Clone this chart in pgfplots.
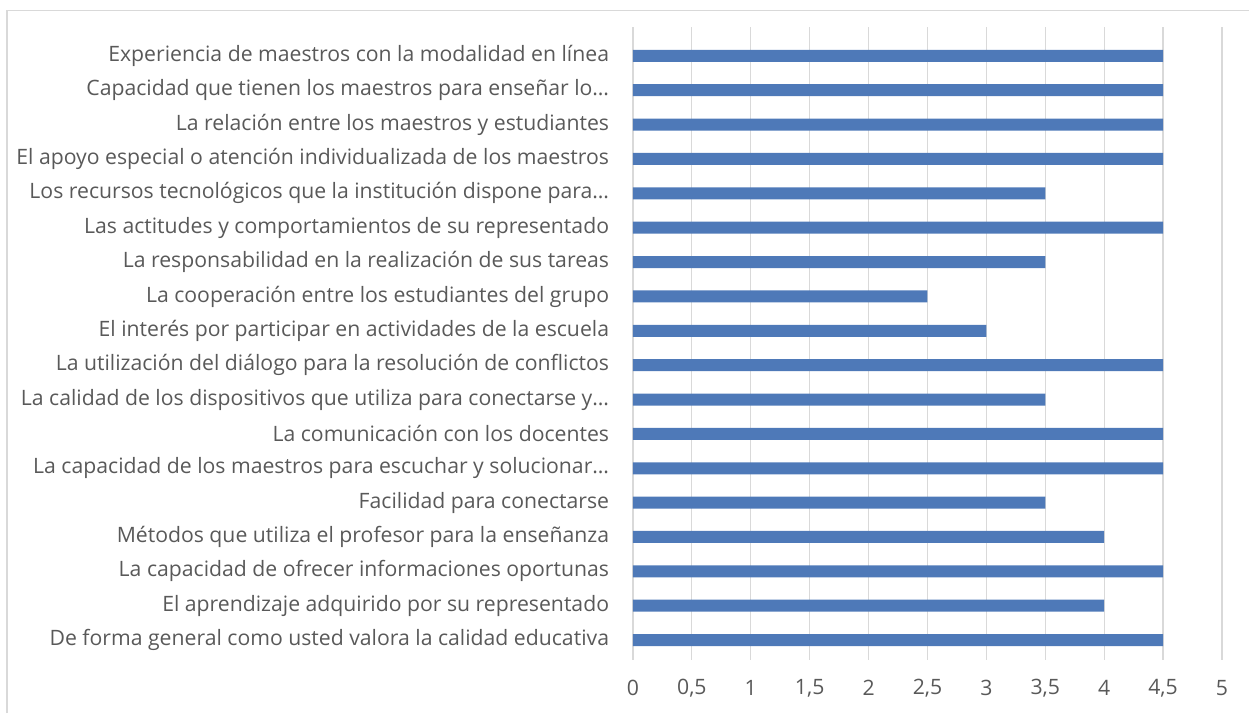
\documentclass[border=0pt]{standalone}
\usepackage{fontspec}
\setmainfont{Open Sans}
\usepackage{pgfplots}
\pgfplotsset{compat=1.18}
\definecolor{barblue}{HTML}{4E79B8}
\definecolor{gridgray}{HTML}{D9D9D9}
\definecolor{textgray}{HTML}{595959}

\begin{document}
\begin{tikzpicture}
% canvas: 1 px of the reference = 0.5pt
\useasboundingbox (0,0) rectangle (624.5pt,356.5pt);
\draw[gridgray, line width=0.8pt] (3.5pt,0) -- (3.5pt,351.3pt) -- (624.5pt,351.3pt);

\begin{axis}[
    at={(316.5pt,26.5pt)}, anchor=south west,
    scale only axis,
    width=294.5pt, height=316.5pt,
    xbar, bar width=6pt,
    xmin=0, xmax=5,
    ymin=-0.84, ymax=17.58,
    y dir=reverse,
    xtick={0,0.5,...,5},
    ytick={0,...,17},
    yticklabels={
      Experiencia de maestros con la modalidad en línea,
      Capacidad que tienen los maestros para enseñar lo…,
      La relación entre los maestros y estudiantes,
      El apoyo especial o atención individualizada de los maestros,
      Los recursos tecnológicos que la institución dispone para…,
      Las actitudes y comportamientos de su representado,
      La responsabilidad en la realización de sus tareas,
      La cooperación entre los estudiantes del grupo,
      El interés por participar en actividades de la escuela,
      La utilización del diálogo para la resolución de conflictos,
      La calidad de los dispositivos que utiliza para conectarse y…,
      La comunicación con los docentes,
      La capacidad de los maestros para escuchar y solucionar…,
      Facilidad para conectarse,
      Métodos que utiliza el profesor para la enseñanza,
      La capacidad de ofrecer informaciones oportunas,
      El aprendizaje adquirido por su representado,
      De forma general como usted valora la calidad educativa},
    xmajorgrids, major grid style={gridgray, line width=0.6pt},
    axis line style={draw=none},
    tick style={draw=none},
    tick label style={font=\fontsize{10.6}{12}\selectfont, text=textgray},
    yticklabel style={inner sep=0pt, anchor=east, xshift=-7.5pt},
    xticklabel style={inner sep=0pt, anchor=center, yshift=-14pt},
    /pgf/number format/assume math mode=true,
    /pgf/number format/use comma,
  ]
\addplot[fill=barblue, draw=none] coordinates {
  (4.5,0) (4.5,1) (4.5,2) (4.5,3) (3.5,4) (4.5,5) (3.5,6) (2.5,7) (3,8)
  (4.5,9) (3.5,10) (4.5,11) (4.5,12) (3.5,13) (4,14) (4.5,15) (4,16) (4.5,17)
};
\end{axis}
\end{tikzpicture}
\end{document}
